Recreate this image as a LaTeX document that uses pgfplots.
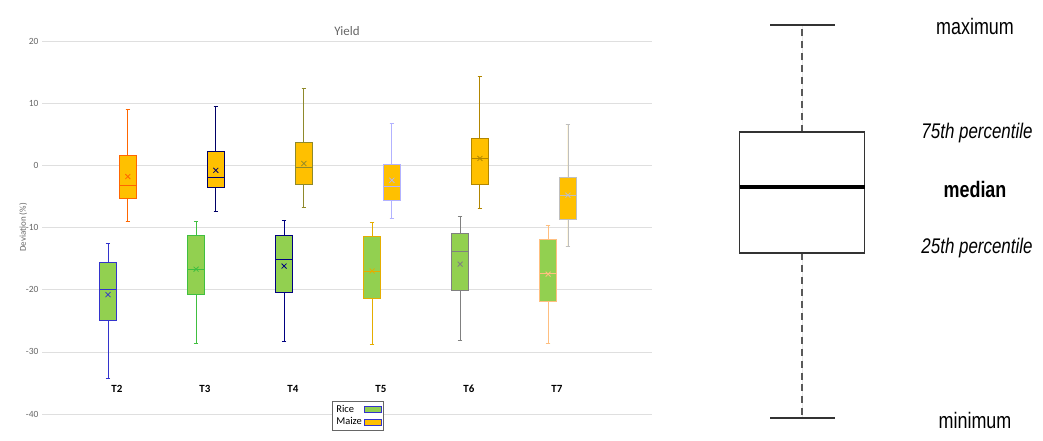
\documentclass[border=0pt]{standalone}
\usepackage{pgfplots}
\pgfplotsset{compat=1.18}
\usepgfplotslibrary{statistics}
\usepackage{fontspec}
\setmainfont{Carlito}
\newfontfamily\lib{Liberation Sans}
\definecolor{maize}{HTML}{FFC000}
\definecolor{rice}{HTML}{92D050}
\newcommand{\bx}[9]{% pos,lw,lq,med,uq,uw,fill,draw,mean
\addplot[fill=#7,draw=#8,line width=0.9pt,boxplot prepared={draw position=#1,lower whisker=#2,lower quartile=#3,median=#4,upper quartile=#5,upper whisker=#6,box extend=0.2,whisker extend=0.05}] coordinates {};
\addplot[only marks,mark=x,mark size=3.5pt,draw=#8,line width=0.8pt] coordinates {(#1,#9)};
}
\begin{document}
\begin{tikzpicture}[x=1bp,y=1bp]
\useasboundingbox (0,0) rectangle (1043,441);
\begin{axis}[at={(42bp,27bp)},anchor=south west,scale only axis,width=610bp,height=373bp,
 boxplot/draw direction=y,
 xmin=-0.85,xmax=6.08,ymin=-40,ymax=20,ytick={-40,-30,...,20},
 axis line style={draw=none},tick style={draw=none},
 ymajorgrids,grid style={gray!25},
 xtick={0,...,5},xticklabels={T2,T3,T4,T5,T6,T7},
 xticklabel style={font=\bfseries\fontsize{11}{11}\selectfont,yshift=32bp},
 yticklabel style={font=\fontsize{9.5}{9.5}\selectfont,text=gray!80!black},
 /pgf/number format/assume math mode=true,
 ylabel={Deviation (\%)},ylabel style={font=\fontsize{9}{9}\selectfont,text=gray!80!black,yshift=-8bp},
 title={Yield},title style={font=\fontsize{13}{13}\selectfont,text=gray!80!black,yshift=-4bp},
 legend plot pos=right,
 legend style={at={(0.518,0.035)},anchor=north,font=\fontsize{10.5}{10.5}\selectfont,draw=gray!80!black,fill=white,row sep=0pt,inner sep=2pt},
 legend cell align=left]
\addlegendimage{area legend,fill=rice,draw=blue!60!gray,line width=0.8pt}
\addlegendentry{Rice}
\addlegendimage{area legend,fill=maize,draw=blue!60!gray,line width=0.8pt}
\addlegendentry{Maize}
\bx{-0.1}{-34.3}{-25}{-20}{-15.6}{-12.6}{rice}{blue!60!gray}{-20.8}
\bx{0.125}{-9}{-5.3}{-3.2}{1.6}{9}{maize}{orange!80!red}{-1.8}
\bx{0.9}{-28.6}{-20.8}{-16.7}{-11.2}{-9}{rice}{green!50!gray}{-16.7}
\bx{1.125}{-7.4}{-3.6}{-2}{2.3}{9.5}{maize}{blue!40!black}{-0.8}
\bx{1.9}{-28.4}{-20.5}{-15.1}{-11.3}{-8.8}{rice}{blue!50!black}{-16.2}
\bx{2.125}{-6.8}{-3.1}{-0.4}{3.7}{12.3}{maize}{olive!70!gray}{0.3}
\bx{2.9}{-28.8}{-21.4}{-17}{-11.5}{-9.2}{rice}{maize!90!black}{-17}
\bx{3.125}{-8.5}{-5.6}{-3.4}{0.2}{6.7}{maize}{blue!30!white}{-2.4}
\bx{3.9}{-28.1}{-20.1}{-13.9}{-10.9}{-8.3}{rice}{gray}{-15.9}
\bx{4.125}{-6.9}{-3.1}{1.1}{4.4}{14.3}{maize}{maize!70!black}{1.1}
\bx{4.9}{-28.7}{-21.9}{-17.4}{-12}{-9.6}{rice}{orange!50!white}{-17.5}
\bx{5.125}{-13}{-8.7}{-4.8}{-2}{6.6}{maize}{gray!50}{-4.8}
\end{axis}
\begin{axis}[at={(700bp,0bp)},anchor=south west,scale only axis,width=343bp,height=441bp,
 boxplot/draw direction=y,
 xmin=0,xmax=343,ymin=0,ymax=441,hide axis,clip=false]
\addplot[fill=white,draw=black!80,line width=1.2pt,
 boxplot/every whisker/.style={dash pattern=on 7pt off 5pt,gray!70!black,line width=1.5pt},
 boxplot/every median/.style={line width=4pt,black},
 boxplot prepared={draw position=102,lower whisker=23,lower quartile=188,median=254,upper quartile=309,upper whisker=416,box extend=125,whisker extend=0}] coordinates {};
\addplot[gray!40!black,line width=1.5pt] coordinates {(70,416) (135,416)};
\addplot[gray!40!black,line width=1.5pt] coordinates {(70,23) (135,23)};
\node[font=\lib\fontsize{18}{18}\selectfont,yscale=1.25] at (275,414) {maximum};
\node[font=\lib\itshape\fontsize{17}{17}\selectfont,yscale=1.25] at (277,308) {75th percentile};
\node[font=\lib\bfseries\fontsize{18}{18}\selectfont,yscale=1.25] at (275,251) {median};
\node[font=\lib\itshape\fontsize{17}{17}\selectfont,yscale=1.25] at (277,193) {25th percentile};
\node[font=\lib\fontsize{18}{18}\selectfont,yscale=1.25] at (275,21) {minimum};
\end{axis}
\end{tikzpicture}
\end{document}
